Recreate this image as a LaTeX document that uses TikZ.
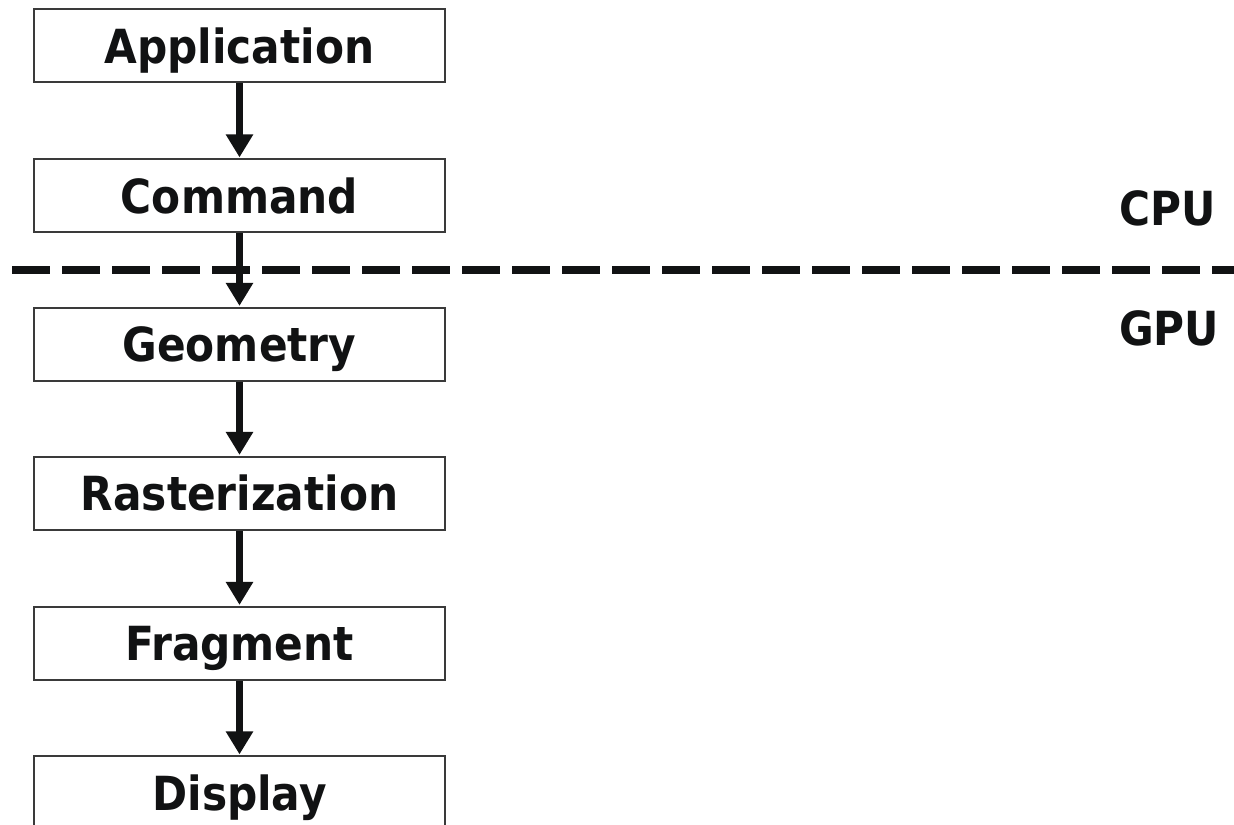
\documentclass[tikz,border=0pt]{standalone}
\usepackage{fontspec}
\setmainfont{DejaVu Sans Condensed}
\usetikzlibrary{arrows.meta}
\definecolor{ink}{HTML}{111213}
\definecolor{frame}{HTML}{3A3A3A}
\tikzset{
  stage/.style={draw=frame, line width=1pt, minimum width=205.5pt, minimum height=36.5pt,
    inner sep=0pt, text height=17.5pt, text depth=0pt, text=ink,
    font=\fontsize{23.5}{26}\selectfont\bfseries},
  flow/.style={draw=ink, line width=3.2pt, -{Triangle[length=11.5pt,width=13pt]}, shorten >=0.3pt},
  split/.style={draw=ink, line width=4pt, dash pattern=on 19pt off 6pt},
  side/.style={anchor=base, text=ink, inner sep=0pt, font=\fontsize{23.5}{26}\selectfont\bfseries}
}
\begin{document}
\begin{tikzpicture}[x=0.5pt, y=-0.5pt]
  \clip (0,0) rectangle (1234,824);
  \fill[white] (0,0) rectangle (1234,824);

  % pipeline stages
  \node[stage] (app)  at (239.5,46)    {Application};
  \node[stage] (cmd)  at (239.5,195.5) {Command};
  \node[stage] (geo)  at (239.5,344)   {Geometry};
  \node[stage] (ras)  at (239.5,493)   {Rasterization};
  \node[stage] (frag) at (239.5,643)   {Fragment};
  \node[stage] (disp) at (239.5,792.5) {Display};

  % CPU / GPU boundary
  \coordinate (splitL) at (12,270);
  \coordinate (splitR) at (1240,270);
  \draw[split] (splitL) -- (splitR);
  \node[side] (cpu) at (1167.5,225) {CPU};
  \node[side] (gpu) at (1169,345) {GPU};

  % flow between stages
  \draw[flow] (app)  -- (cmd);
  \draw[flow] (cmd)  -- (geo);
  \draw[flow] (geo)  -- (ras);
  \draw[flow] (ras)  -- (frag);
  \draw[flow] (frag) -- (disp);
\end{tikzpicture}
\end{document}
